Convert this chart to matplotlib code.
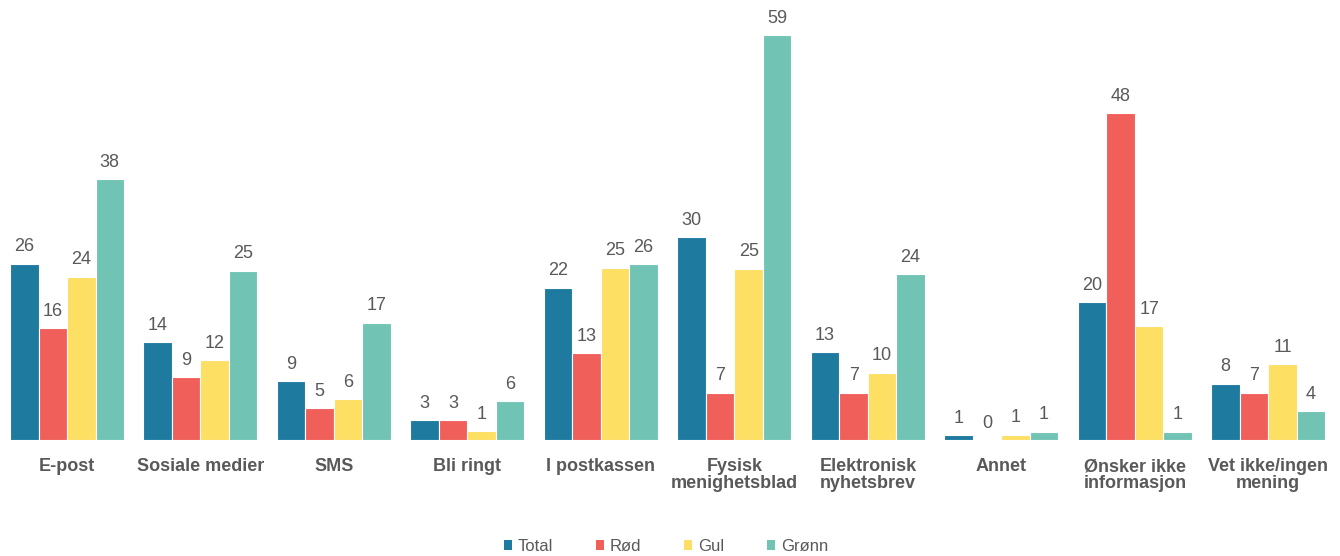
import matplotlib
matplotlib.use("Agg")
import matplotlib.pyplot as plt
import numpy as np
from matplotlib.patches import Patch

categories = ["E-post", "Sosiale medier", "SMS", "Bli ringt", "I postkassen",
              "Fysisk\nmenighetsblad", "Elektronisk\nnyhetsbrev", "Annet",
              "Ønsker ikke\ninformasjon", "Vet ikke/ingen\nmening"]
series_names = ["Total", "Rød", "Gul", "Grønn"]
total = [25.7, 14.3, 8.6, 2.9, 22.2, 29.6, 12.8, 0.7, 20.1, 8.2]
rod = [16.3, 9.2, 4.6, 2.9, 12.7, 6.9, 6.9, 0.0, 47.6, 6.9]
gul = [23.8, 11.6, 6.0, 1.3, 25.1, 25.0, 9.8, 0.8, 16.6, 11.1]
gronn = [38.0, 24.7, 17.1, 5.7, 25.6, 59.0, 24.2, 1.2, 1.2, 4.2]
colors = ["#1F7A9F", "#F05F5A", "#FDDF64", "#71C4B4"]

plt.rcParams['font.family'] = ['Liberation Sans', 'DejaVu Sans']
text_color = "#595959"

fig = plt.figure(figsize=(13.4, 5.56), dpi=100)
ax = fig.add_axes([0.0002, 0.2086, 0.9961, 0.765])

x = np.arange(len(categories))
w = 0.2135
data = [total, rod, gul, gronn]
for i, (vals, c, name) in enumerate(zip(data, colors, series_names)):
    bars = ax.bar(x + (i - 1.5) * w, vals, width=w, color=c, edgecolor="white",
                  linewidth=0.8, label=name)
    ax.bar_label(bars, labels=[f"{v:.0f}" for v in vals], padding=6,
                 fontsize=13, color=text_color)

ax.set_xlim(-0.5, len(categories) - 0.5)
ax.set_ylim(0, 62)
ax.set_yticks([])
ax.set_xticks(x)
ax.set_xticklabels(categories, fontsize=13, fontweight="bold", color=text_color,
                   linespacing=1.0)
ax.tick_params(axis="x", length=0, pad=13)
for s in ax.spines.values():
    s.set_visible(False)

handles = [Patch(facecolor=c, edgecolor="none") for c in colors]
fig.legend(handles, series_names, loc="lower center", bbox_to_anchor=(0.497, -0.023),
           ncol=4, frameon=False, fontsize=12, handlelength=0.5, handleheight=0.5,
           handletextpad=0.35, columnspacing=2.55, labelcolor=text_color)

fig.savefig("out.png", dpi=100)
